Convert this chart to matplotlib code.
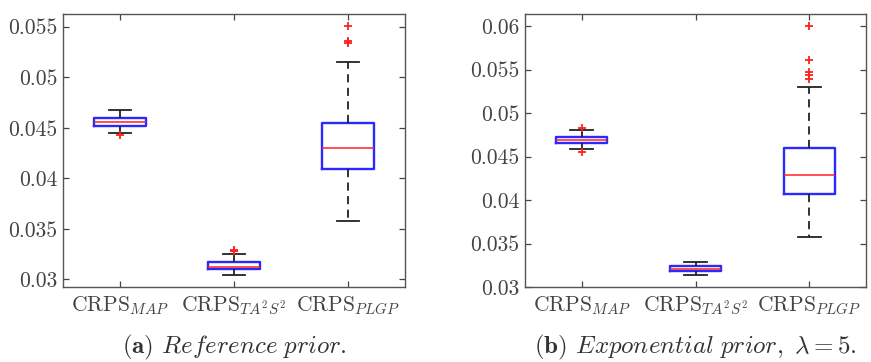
import matplotlib
matplotlib.use("Agg")
import matplotlib.pyplot as plt

plt.rcParams['font.family'] = ['cmr10', 'DejaVu Serif']
plt.rcParams['mathtext.fontset'] = 'cm'
plt.rcParams['axes.formatter.use_mathtext'] = True

categories = [r'CRPS$_{MAP}$', r'CRPS$_{TA^2S^2}$', r'CRPS$_{PLGP}$']

# Panel (a): Reference prior
a_q1 = [0.04516, 0.03099, 0.04088]
a_med = [0.04556, 0.03125, 0.04296]
a_q3 = [0.04592, 0.03168, 0.04546]
a_wlo = [0.04453, 0.03046, 0.03576]
a_whi = [0.04671, 0.03250, 0.05147]
a_fliers = [[0.04424], [0.03278, 0.03285, 0.03292], [0.05507, 0.05361, 0.05335]]

# Panel (b): Exponential prior, lambda = 5
b_q1 = [0.04657, 0.03184, 0.04074]
b_med = [0.04688, 0.03212, 0.04293]
b_q3 = [0.04726, 0.03238, 0.04599]
b_wlo = [0.04581, 0.03138, 0.03575]
b_whi = [0.04803, 0.03284, 0.05295]
b_fliers = [[0.04822, 0.04553], [], [0.06000, 0.05605, 0.05474, 0.05436, 0.05390]]

a_yticks = [0.03, 0.035, 0.04, 0.045, 0.05, 0.055]
a_yticklabels = ['0.03', '0.035', '0.04', '0.045', '0.05', '0.055']
b_yticks = [0.03, 0.035, 0.04, 0.045, 0.05, 0.055, 0.06]
b_yticklabels = ['0.03', '0.035', '0.04', '0.045', '0.05', '0.055', '0.06']

W, H = 871, 362
fig = plt.figure(figsize=(W / 100, H / 100), dpi=100)

def make_stats(q1, med, q3, wlo, whi, fl):
    return [dict(q1=q1[i], med=med[i], q3=q3[i], whislo=wlo[i], whishi=whi[i],
                 fliers=fl[i], label=categories[i]) for i in range(len(q1))]

def draw(ax, stats, ylim, yticks, yticklabels):
    ax.bxp(stats, positions=[1, 2, 3], widths=0.45, capwidths=0.2,
           boxprops=dict(color='#2a2aff', linewidth=1.7),
           medianprops=dict(color='#ff2020', linewidth=1.1),
           whiskerprops=dict(color='#222222', linewidth=1.3, linestyle=(0, (4.5, 3))),
           capprops=dict(color='#222222', linewidth=1.3),
           flierprops=dict(marker='+', markeredgecolor='#ff2020', markersize=6,
                           markeredgewidth=1.3, linestyle='none'))
    ax.set_xlim(0.5, 3.5)
    ax.set_ylim(*ylim)
    ax.set_yticks(yticks)
    ax.set_yticklabels(yticklabels)
    ax.set_xticks([1, 2, 3])
    ax.set_xticklabels(categories)
    ax.tick_params(direction='in', top=True, right=True, length=4, width=0.9,
                   color='#444444', labelcolor='#444444')
    ax.tick_params(axis='x', pad=5, labelsize=15.5)
    ax.tick_params(axis='y', pad=4, labelsize=15.5)
    for s in ax.spines.values():
        s.set_color('#555555')
        s.set_linewidth(1.0)

ax1 = fig.add_axes([63 / W, (H - 287) / H, 342 / W, 273 / H])
draw(ax1, make_stats(a_q1, a_med, a_q3, a_wlo, a_whi, a_fliers),
     (0.02924, 0.05626), a_yticks, a_yticklabels)

ax2 = fig.add_axes([525 / W, (H - 287) / H, 341 / W, 273 / H])
draw(ax2, make_stats(b_q1, b_med, b_q3, b_wlo, b_whi, b_fliers),
     (0.0300, 0.06138), b_yticks, b_yticklabels)

fig.text(234 / W, 1 - 347 / H, r'$\mathbf{(a)}$ $\mathit{Reference\ prior.}$',
         ha='center', va='center', fontsize=18, color='#333333')
fig.text(695 / W, 1 - 347 / H, r'$\mathbf{(b)}$ $\mathit{Exponential\ prior,}\ \lambda = 5.$',
         ha='center', va='center', fontsize=18, color='#333333')

fig.savefig('out.png', dpi=100)
